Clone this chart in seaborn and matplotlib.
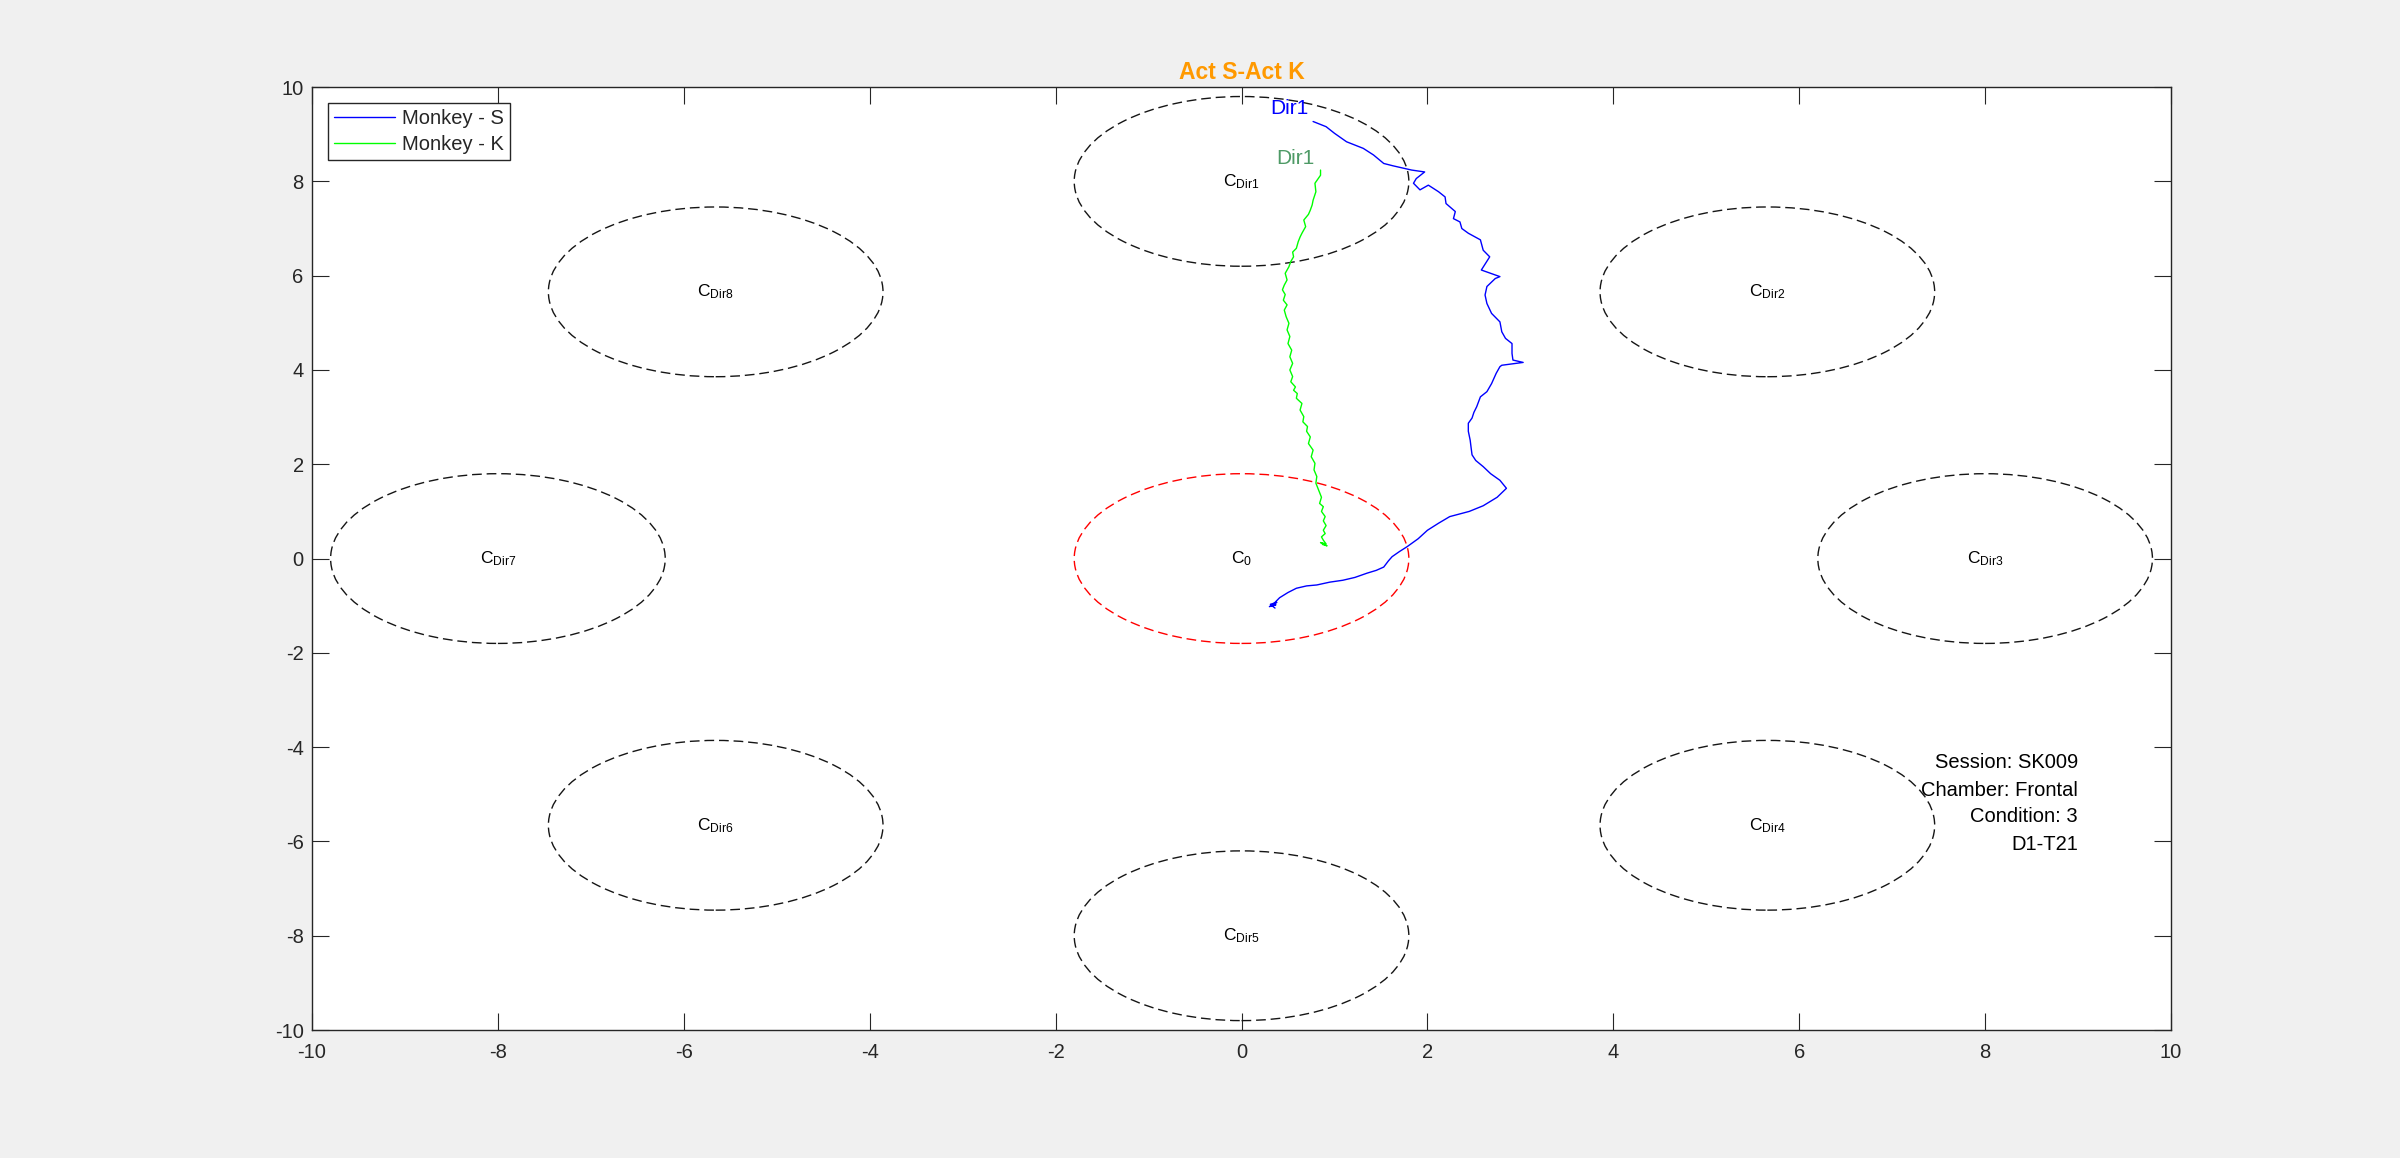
import numpy as np
import pandas as pd
import matplotlib
matplotlib.use("Agg")
import matplotlib.pyplot as plt
from matplotlib.patches import Ellipse
import seaborn as sns

# ---------------- data ----------------
target_names = ["C_0", "Dir1", "Dir2", "Dir3", "Dir4", "Dir5", "Dir6", "Dir7", "Dir8"]
target_labels = ["0", "Dir1", "Dir2", "Dir3", "Dir4", "Dir5", "Dir6", "Dir7", "Dir8"]
target_x = [0.0, 0.0, 5.657, 8.0, 5.657, 0.0, -5.657, -8.0, -5.657]
target_y = [0.0, 8.0, 5.657, 0.0, -5.657, -8.0, -5.657, 0.0, 5.657]
target_radius = 1.8

s_x = [0.36, 0.31, 0.38, 0.33, 0.37, 0.30, 0.35,
       0.41, 0.50, 0.59, 0.70, 0.81, 0.95, 1.09, 1.22, 1.35, 1.45, 1.53, 1.58, 1.62,
       1.70, 1.78, 1.90, 2.00, 2.12, 2.24, 2.45, 2.60, 2.75, 2.85, 2.78, 2.68, 2.60,
       2.52, 2.48, 2.47, 2.46, 2.44, 2.44, 2.48, 2.50, 2.53, 2.57, 2.64, 2.69, 2.74,
       2.78, 2.80, 3.03, 2.92, 2.91, 2.91, 2.84, 2.80, 2.78, 2.69, 2.64, 2.62, 2.64,
       2.73, 2.78, 2.58, 2.67, 2.60, 2.57, 2.44, 2.37, 2.35, 2.28, 2.30, 2.20, 2.19,
       2.12, 2.01, 1.92, 1.85, 1.88, 1.97, 1.83, 1.63, 1.53, 1.42, 1.31, 1.13, 1.00,
       0.91, 0.77]
s_y = [-1.05, -0.97, -0.93, -1.00, -0.98, -1.02, -0.95,
       -0.83, -0.72, -0.63, -0.58, -0.56, -0.50, -0.46, -0.40, -0.31, -0.25, -0.18,
       -0.05, 0.04, 0.15, 0.25, 0.42, 0.60, 0.75, 0.89, 1.00, 1.12, 1.30, 1.49, 1.66,
       1.80, 1.95, 2.08, 2.20, 2.35, 2.51, 2.70, 2.87, 2.98, 3.10, 3.22, 3.43, 3.54,
       3.71, 3.93, 4.07, 4.10, 4.16, 4.21, 4.35, 4.56, 4.67, 4.81, 5.02, 5.20, 5.41,
       5.59, 5.77, 5.94, 5.98, 6.12, 6.40, 6.54, 6.76, 6.90, 7.00, 7.14, 7.21, 7.36,
       7.53, 7.67, 7.78, 7.92, 7.82, 7.96, 8.06, 8.20, 8.24, 8.33, 8.38, 8.56, 8.70,
       8.84, 9.02, 9.16, 9.27]

k_x = [0.87, 0.92, 0.85, 0.91, 0.88, 0.86, 0.90, 0.88, 0.91, 0.88, 0.90, 0.86,
       0.88, 0.84, 0.86, 0.83, 0.80, 0.81, 0.78, 0.79, 0.75, 0.77, 0.72, 0.74,
       0.70, 0.71, 0.66, 0.67, 0.63, 0.65, 0.59, 0.60, 0.56, 0.58, 0.53, 0.55,
       0.52, 0.55, 0.52, 0.54, 0.50, 0.52, 0.49, 0.51, 0.48, 0.46, 0.49, 0.45,
       0.47, 0.44, 0.46, 0.49, 0.47, 0.51, 0.53, 0.56, 0.55, 0.59, 0.61, 0.63,
       0.65, 0.69, 0.67, 0.72, 0.74, 0.76, 0.77, 0.80, 0.79, 0.85]
k_y = [0.30, 0.27, 0.34, 0.31, 0.39, 0.46, 0.53, 0.60, 0.70, 0.80, 0.89, 1.00,
       1.10, 1.17, 1.30, 1.45, 1.60, 1.74, 1.88, 2.02, 2.16, 2.30, 2.44, 2.58,
       2.70, 2.80, 2.90, 3.01, 3.15, 3.29, 3.40, 3.50, 3.57, 3.64, 3.75, 3.86,
       4.00, 4.14, 4.28, 4.42, 4.56, 4.71, 4.85, 4.99, 5.13, 5.27, 5.38, 5.48,
       5.60, 5.70, 5.80, 5.91, 6.05, 6.19, 6.30, 6.40, 6.50, 6.58, 6.72, 6.82,
       6.90, 7.04, 7.18, 7.30, 7.39, 7.50, 7.60, 7.78, 7.96, 8.13]
k_end = (0.85, 8.24)

monkeys = ["Monkey - S", "Monkey - K"]
line_colors = ["#0000ff", "#00ff00"]
end_label_color = ["#0000ff", "#4e9a66"]
end_label_pos = [(0.52, 9.55), (0.58, 8.49)]

title = "Act S-Act K"
info_lines = ["Session: SK009", "Chamber: Frontal", "Condition: 3", "D1-T21"]
info_y = [-4.33, -4.91, -5.48, -6.06]
info_x = 9.0
ticks = [-10, -8, -6, -4, -2, 0, 2, 4, 6, 8, 10]

# ---------------- styling ----------------
sns.set_theme(style="white")
plt.rcParams["font.family"] = ["Liberation Sans", "DejaVu Sans"]
plt.rcParams["mathtext.fontset"] = "custom"
plt.rcParams["mathtext.rm"] = "Liberation Sans"
plt.rcParams["mathtext.it"] = "Liberation Sans"
plt.rcParams["axes.unicode_minus"] = False

fig = plt.figure(figsize=(24, 11.58), dpi=100, facecolor="#f0f0f0")
ax = fig.add_axes([0.13, 0.1105, 0.7746, 0.8143])
ax.set_facecolor("white")

k_x_full = k_x + [k_end[0]]
k_y_full = k_y + [k_end[1]]
df = pd.DataFrame({
    "x": s_x + k_x_full,
    "y": s_y + k_y_full,
    "monkey": [monkeys[0]] * len(s_x) + [monkeys[1]] * len(k_x_full),
})
sns.lineplot(data=df, x="x", y="y", hue="monkey", hue_order=monkeys,
             palette=line_colors, sort=False, estimator=None, linewidth=1.0,
             ax=ax, legend=True)

# target circles
for i, (cx, cy) in enumerate(zip(target_x, target_y)):
    col = "#ff0000" if i == 0 else "#151515"
    ax.add_patch(Ellipse((cx, cy), 2 * target_radius, 2 * target_radius,
                         fill=False, edgecolor=col, linestyle=(0, (7, 3.5)),
                         linewidth=1.0, zorder=1))
    ax.text(cx, cy, r"$\mathregular{C_{%s}}$" % target_labels[i],
            ha="center", va="center", fontsize=12.5, color="black")

# end labels
for (lx, ly), c in zip(end_label_pos, end_label_color):
    ax.text(lx, ly, "Dir1", ha="center", va="center", fontsize=15, color=c)

# info text
for t, yy in zip(info_lines, info_y):
    ax.text(info_x, yy, t, ha="right", va="center", fontsize=14.5, color="black")

ax.set_xlim(-10, 10)
ax.set_ylim(-10, 10)
ax.set_xticks(ticks)
ax.set_yticks(ticks)
ax.set_xlabel("")
ax.set_ylabel("")
ax.tick_params(direction="in", length=12, width=0.8, top=True, right=True,
               bottom=True, left=True,
               labelsize=14.5, colors="#262626", labelcolor="#262626")
ax.tick_params(axis="x", pad=9)
ax.tick_params(axis="y", pad=6)
for sp in ax.spines.values():
    sp.set_visible(True)
    sp.set_color("#262626")
    sp.set_linewidth(1.0)

ax.set_title(title, color="#ff9900", fontweight="bold", fontsize=16.5, pad=6)

leg = ax.legend(loc="upper left", borderaxespad=0.8, fontsize=14.5,
                handlelength=3.0, handletextpad=0.35, borderpad=0.3,
                labelspacing=0.35, fancybox=False, framealpha=1.0,
                edgecolor="#262626", title=None)
leg.get_frame().set_linewidth(1.0)
for h in leg.get_lines():
    h.set_linewidth(1.0)

fig.savefig("out.png", dpi=100, facecolor=fig.get_facecolor())
